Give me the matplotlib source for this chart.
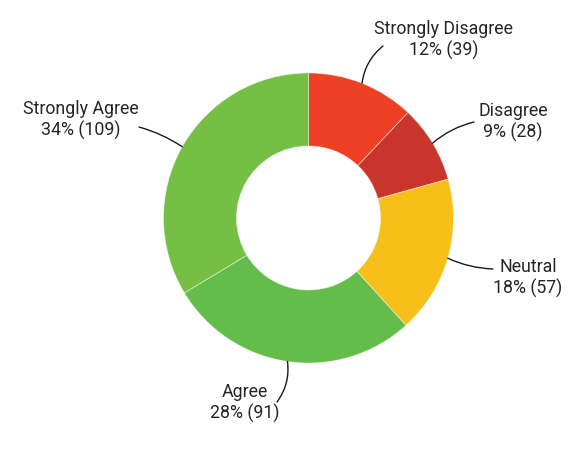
import numpy as np
import matplotlib.pyplot as plt

plt.rcParams['font.family'] = ['Roboto', 'DejaVu Sans']

# Survey data
labels = ['Strongly Disagree', 'Disagree', 'Neutral', 'Agree', 'Strongly Agree']
counts = [39, 28, 57, 91, 109]
colors = ['#EF3F24', '#C9352B', '#F7BF19', '#64BD4A', '#74BF44']

# label text centres and leader end points, in pixels (y down)
text_pos = [(444, 40), (513, 122), (528, 278), (245, 403), (81, 120)]
line_end = [(383, 46), (474, 122), (493, 269), (277, 402), (139, 127)]
rads = [-0.2, -0.12, 0.1, -0.2, 0.08]

W, H = 569, 458
fig = plt.figure(figsize=(W / 100, H / 100), dpi=100)
ax = fig.add_axes([0, 0, 1, 1])

cx, cy = 308.5, H - 218
r_out, r_in = 145, 72

wedges, _ = ax.pie(counts, colors=colors, startangle=90, counterclock=False,
                   center=(cx, cy), radius=r_out, frame=True,
                   wedgeprops=dict(width=r_out - r_in, edgecolor=(1, 1, 1, 0.5), linewidth=0.6))
ax.set_xlim(0, W)
ax.set_ylim(0, H)
ax.set_aspect('equal')
ax.axis('off')

total = sum(counts)
for w, lab, c, tp, le, rad in zip(wedges, labels, counts, text_pos, line_end, rads):
    mid = np.deg2rad((w.theta1 + w.theta2) / 2)
    sx, sy = cx + r_out * np.cos(mid), cy + r_out * np.sin(mid)
    ax.annotate('', xy=(le[0], H - le[1]), xytext=(sx, sy),
                arrowprops=dict(arrowstyle='-', color='#1a1a1a', lw=1,
                                shrinkA=0, shrinkB=0,
                                connectionstyle=f'arc3,rad={rad}'))
    pct = round(c / total * 100)
    ax.text(tp[0], H - tp[1], f'{lab}\n{pct}% ({c})', ha='center', va='center',
            fontsize=12.8, color='#262626', linespacing=1.15)

fig.savefig('out.png', dpi=100)
